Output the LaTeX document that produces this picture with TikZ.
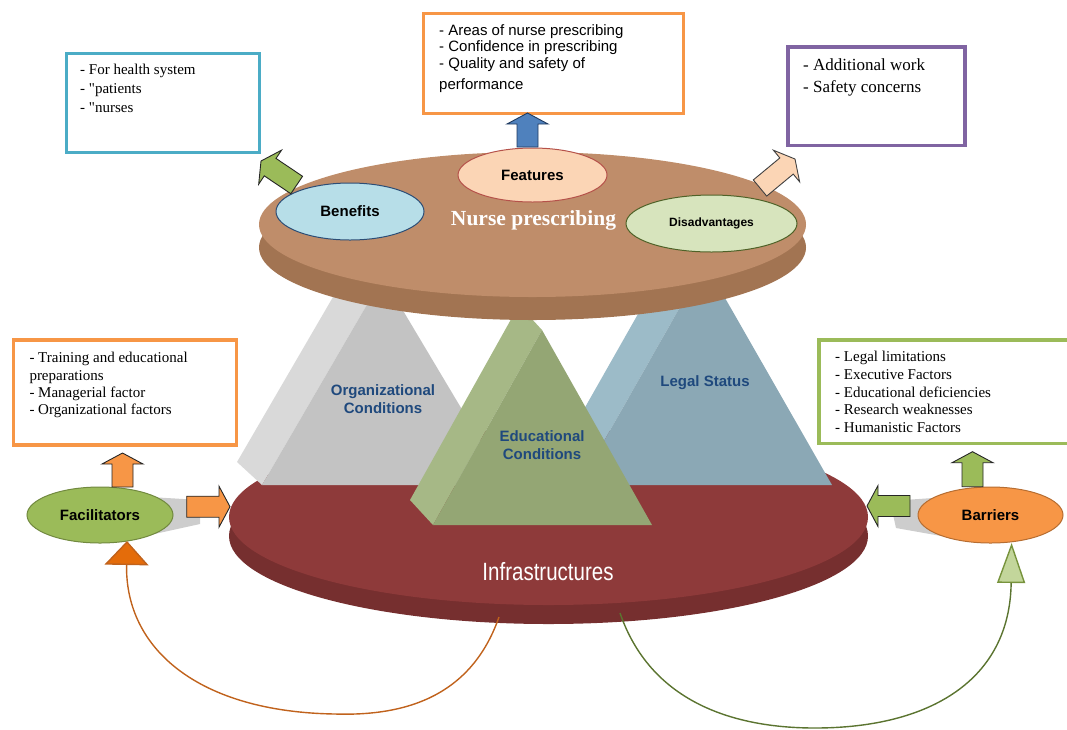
\documentclass[tikz,border=0pt]{standalone}
\usepackage{fontspec}
\setmainfont{Liberation Serif}[Ligatures=TeXOff]
\setsansfont{Liberation Sans}
\newfontfamily\narrowfont[FakeStretch=0.82]{Liberation Sans}
\usetikzlibrary{arrows.meta,calc,shapes.geometric}
\definecolor{brownTop}{HTML}{BF8D6A}
\definecolor{brownSide}{HTML}{A27452}
\definecolor{redTop}{HTML}{8E3A3A}
\definecolor{redSide}{HTML}{762F2F}
\definecolor{featFill}{HTML}{FBD5B5}
\definecolor{featLine}{HTML}{B5524A}
\definecolor{benFill}{HTML}{B7DEE8}
\definecolor{benLine}{HTML}{2C4D75}
\definecolor{disFill}{HTML}{D7E4BD}
\definecolor{disLine}{HTML}{4F6228}
\definecolor{facFill}{HTML}{9BBB59}
\definecolor{facLine}{HTML}{71893F}
\definecolor{barFill}{HTML}{F79646}
\definecolor{barLine}{HTML}{B66D31}
\definecolor{boxBlue}{HTML}{4BACC6}
\definecolor{boxOrange}{HTML}{F79646}
\definecolor{boxPurple}{HTML}{8064A2}
\definecolor{boxGreen}{HTML}{9BBB59}
\definecolor{arrBlue}{HTML}{4F81BD}
\definecolor{arrBlueLine}{HTML}{1F3A5F}
\definecolor{pyrText}{HTML}{1F497D}
\definecolor{grayFront}{HTML}{C3C3C3}
\definecolor{graySide}{HTML}{D9D9D9}
\definecolor{blueFront}{HTML}{8BA8B5}
\definecolor{blueSide}{HTML}{9CBBC8}
\definecolor{greenFront}{HTML}{94A674}
\definecolor{greenSide}{HTML}{A6B886}
\definecolor{orgLine}{HTML}{C0621C}
\definecolor{orgHead}{HTML}{E46C0A}
\definecolor{grnLine}{HTML}{5B7430}
\definecolor{grnHead}{HTML}{C3D69B}
\definecolor{grnHeadLine}{HTML}{77933C}
\definecolor{shadowGray}{HTML}{CDCDCD}
\tikzset{
  infobox/.style={draw, line width=3.5pt, fill=white, inner sep=0pt},
  boxtext/.style={anchor=north west, align=left, inner sep=0pt, text=black},
  lab/.style={ellipse, draw, line width=1pt, inner sep=0pt,
    font=\sffamily\bfseries\fontsize{15}{18}\selectfont},
  disk/.style={ellipse, inner sep=0pt, draw=none},
  pyrtext/.style={align=center, text=pyrText, inner sep=0pt,
    font=\sffamily\bfseries\fontsize{15}{18}\selectfont},
  blockarr/.style={line width=0.9pt, line join=miter},
  curveconn/.style={line width=1.4pt},
}
\newcommand\blockarrow[3]{%
  \draw[blockarr,#1] let \p1=(#2), \p2=(#3),
    \n1={atan2(\y2-\y1,\x2-\x1)}, \n2={veclen(\x2-\x1,\y2-\y1)} in
    [shift={(\p1)}, rotate=\n1]
    (0,-10.5) -- (\n2-11,-10.5) -- (\n2-11,-20.5) -- (\n2,0) --
    (\n2-11,20.5) -- (\n2-11,10.5) -- (0,10.5) -- cycle;}
\begin{document}
\begin{tikzpicture}[x=1pt,y=-1pt]
\useasboundingbox (0,0) rectangle (1067,729);

% ---------- information boxes
\node[infobox, draw=boxBlue, minimum width=193, minimum height=99] (benbox) at (162.75,102.75) {};
\node[boxtext, font=\fontsize{15}{19}\selectfont] (bentext) at (80,64.3)
  {- For health system\\- "patients\\- "nurses};

\node[infobox, draw=boxOrange, minimum width=260, minimum height=100] (featbox) at (553.3,63.3) {};
\node[boxtext, font=\sffamily\fontsize{15}{16.9}\selectfont] (feattext) at (439,24)
  {- Areas of nurse prescribing\\- Confidence in prescribing\\- Quality and safety of\\[4pt]performance};

\node[infobox, draw=boxPurple, minimum width=177, minimum height=98.5] (disbox) at (876.3,96) {};
\node[boxtext, font=\fontsize{17}{22}\selectfont] (distext) at (803,58.5)
  {- Additional work\\- Safety concerns};

\node[infobox, draw=boxOrange, minimum width=223, minimum height=105] (facbox) at (125,392.3) {};
\node[boxtext, font=\fontsize{15}{17.3}\selectfont] (factext) at (29.3,352.3)
  {- Training and educational\\preparations\\- Managerial factor\\- Organizational factors};

\node[infobox, draw=boxGreen, minimum width=250, minimum height=103.5] (barbox) at (943.9,391.5) {};
\node[boxtext, font=\fontsize{15}{17.7}\selectfont] (bartext) at (835,351)
  {- Legal limitations\\- Executive Factors\\- Educational deficiencies\\- Research weaknesses\\- Humanistic Factors};

% ---------- bottom disk: Infrastructures
\node[disk, fill=redSide, minimum width=639, minimum height=176] (infraside) at (548.5,536) {};
\node[disk, fill=redTop, minimum width=639, minimum height=176] (infra) at (548.5,517) {};

% ---------- shadows of facilitators / barriers
\fill[shadowGray] (100,494) -- (200,500) -- (200,524) -- (118,542) -- cycle;
\fill[shadowGray] (990,494) -- (890,501) -- (896,528) -- (975,542) -- cycle;

% ---------- pyramids
\fill[graySide] (358,254) -- (237,462) -- (262,485) -- (383,277) -- cycle;
\fill[grayFront] (383,277) -- (262,485) -- (507,485) -- cycle;
\fill[blueSide] (680,240) -- (554,462) -- (579,485) -- (705,263) -- cycle;
\fill[blueFront] (705,263) -- (579,485) -- (832,485) -- cycle;
\fill[greenSide] (519,305) -- (410,500) -- (433,525) -- (542,330) -- cycle;
\fill[greenFront] (542,330) -- (433,525) -- (652,525) -- cycle;
\node[pyrtext] (orgcond) at (383,399) {Organizational\\Conditions};
\node[pyrtext] (legal) at (705,383) {Legal Status};
\node[pyrtext] (educond) at (542,445) {Educational\\Conditions};
\node[text=white, font=\narrowfont\fontsize{25}{28}\selectfont, inner sep=0pt] (infratext) at (548,572) {Infrastructures};

% ---------- top disk: Nurse prescribing
\node[disk, fill=brownSide, minimum width=547, minimum height=145] (nurseside) at (532.5,247.5) {};
\node[disk, fill=brownTop, minimum width=547, minimum height=145] (nurse) at (532.5,224.5) {};
\node[text=white, font=\bfseries\fontsize{21.5}{24}\selectfont, inner sep=0pt] (nursetext) at (533.5,220) {Nurse prescribing};

\node[lab, fill=featFill, draw=featLine, minimum width=149, minimum height=54] (feat) at (532.5,175) {Features};
\node[lab, fill=benFill, draw=benLine, minimum width=148, minimum height=57] (ben) at (350,211.5) {Benefits};
\node[lab, fill=disFill, draw=disLine, minimum width=171, minimum height=57,
      font=\sffamily\bfseries\fontsize{12}{14}\selectfont] (dis) at (711.5,223.5) {Disadvantages};

% ---------- facilitators / barriers
\node[lab, fill=facFill, draw=facLine, minimum width=146, minimum height=56] (fac) at (100,515) {Facilitators};
\node[lab, fill=barFill, draw=barLine, minimum width=145, minimum height=56] (bar) at (990.5,515) {Barriers};

% ---------- block arrows
\coordinate (featTail) at (527.5,147);
\coordinate (featTip) at (527.5,113);
\blockarrow{fill=arrBlue, draw=arrBlueLine}{featTail}{featTip}
\coordinate (benTail) at (296.7,185);
\coordinate (benTip) at (261,161);
\blockarrow{fill=facFill, draw=black!85}{benTail}{benTip}
\coordinate (disTail) at (760,188);
\coordinate (disTip) at (795,159);
\blockarrow{fill=featFill, draw=black!75}{disTail}{disTip}
\coordinate (facUpTail) at (122.5,487);
\coordinate (facUpTip) at (122.5,453);
\blockarrow{fill=boxOrange, draw=black!85}{facUpTail}{facUpTip}
\coordinate (facRTail) at (186.7,506.7);
\coordinate (facRTip) at (230,506.7);
\blockarrow{fill=boxOrange, draw=black!85}{facRTail}{facRTip}
\coordinate (barUpTail) at (972.5,486.7);
\coordinate (barUpTip) at (972.5,451.7);
\blockarrow{fill=facFill, draw=black!85}{barUpTail}{barUpTip}
\coordinate (barLTail) at (910,506);
\coordinate (barLTip) at (867,506);
\blockarrow{fill=facFill, draw=black!85}{barLTail}{barLTip}

% ---------- curved connectors from Infrastructures
\coordinate (oStart) at (499,617);
\coordinate (oBottom) at (335,714);
\coordinate (oTip) at (127,541);
\draw[curveconn, draw=orgLine, -{Triangle[width=44pt,length=24pt,fill=orgHead]}]
  (oStart) .. controls (470,700) and (400,716) .. (oBottom)
  .. controls (200,712) and (125,650) .. (oTip);
\coordinate (gStart) at (620,613);
\coordinate (gBottom) at (815,728);
\coordinate (gTip) at (1011.6,543);
\draw[curveconn, draw=grnLine, -{Triangle[width=28pt,length=40pt,color=grnHeadLine,fill=grnHead]}]
  (gStart) .. controls (650,700) and (730,728) .. (gBottom)
  .. controls (930,728) and (1010,680) .. (gTip);
\end{tikzpicture}
\end{document}
